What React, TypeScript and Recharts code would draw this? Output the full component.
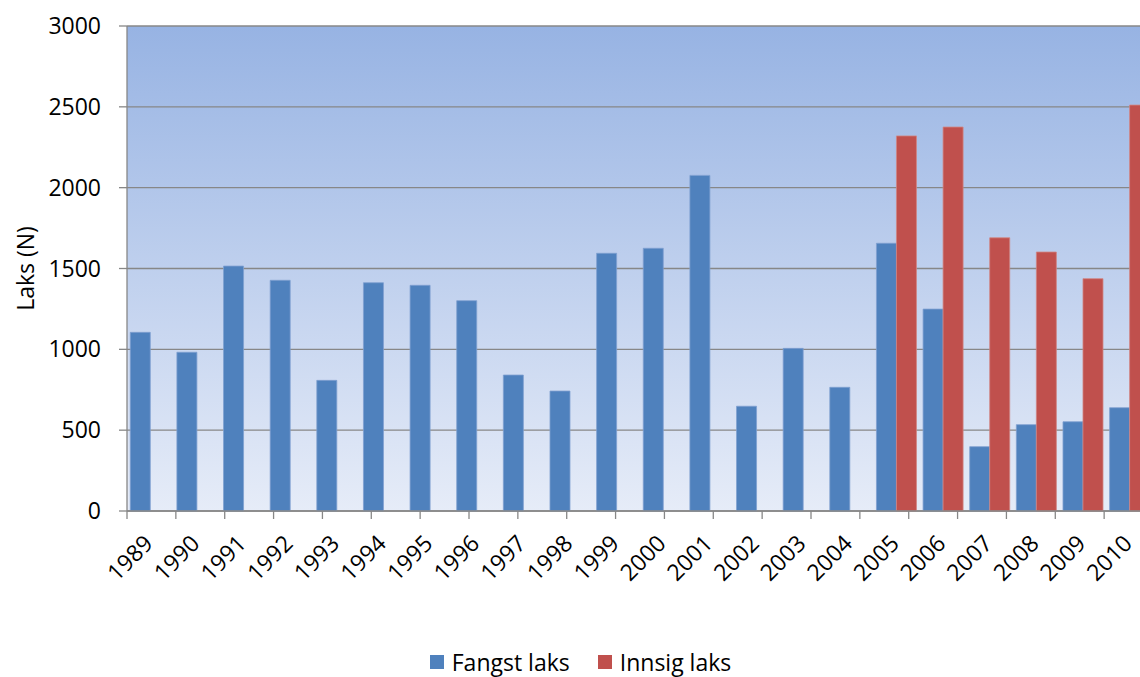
import React from 'react';
import { BarChart, Bar, XAxis, YAxis, CartesianGrid, Legend } from 'recharts';

const YEARS = ['1989', '1990', '1991', '1992', '1993', '1994', '1995', '1996', '1997', '1998', '1999',
  '2000', '2001', '2002', '2003', '2004', '2005', '2006', '2007', '2008', '2009', '2010'];
const FANGST = [1105, 982, 1515, 1427, 808, 1412, 1396, 1301, 841, 742, 1594,
  1625, 2076, 648, 1006, 765, 1656, 1249, 398, 534, 552, 639];
const INNSIG: Array<number | null> = [null, null, null, null, null, null, null, null, null, null, null,
  null, null, null, null, null, 2320, 2375, 1690, 1602, 1437, 2511];
const Y_TICKS = [0, 500, 1000, 1500, 2000, 2500, 3000];
const BOUNDARY_TICKS = Array.from({ length: YEARS.length + 1 }, (_, i) => i);

const data = YEARS.map((year, i) => ({ year, fangst: FANGST[i], innsig: INNSIG[i] }));

const FONT = '"Open Sans", "Liberation Sans", sans-serif';
const FONT_SIZE = 23;
const AXIS_GRAY = '#878787';
const BLUE = '#4f81bd';
const RED = '#c0504d';

const YearTick = (props: any) => {
  const { x, y, payload } = props;
  const tx = x + 4;
  const ty = y + 25;
  return (
    <text x={tx} y={ty} transform={`rotate(-45, ${tx}, ${ty})`} textAnchor="end"
      fontFamily={FONT} fontSize={FONT_SIZE} fill="#000">
      {payload.value}
    </text>
  );
};

const LegendBox = () => (
  <div style={{ display: 'flex', justifyContent: 'center', alignItems: 'center', width: 1161, height: 30,
    fontFamily: FONT, fontSize: FONT_SIZE, color: '#000' }}>
    {[{ c: BLUE, t: 'Fangst laks' }, { c: RED, t: 'Innsig laks' }].map((it, i) => (
      <div key={it.t} style={{ display: 'flex', alignItems: 'center', marginLeft: i ? 28 : 0 }}>
        <span style={{ width: 14, height: 14, background: it.c, marginRight: 8, display: 'inline-block' }} />
        <span>{it.t}</span>
      </div>
    ))}
  </div>
);

export default function App() {
  return (
    <div style={{ position: 'absolute', left: 0, top: 0, width: 1140, height: 677, overflow: 'hidden', background: '#fff' }}>
      <svg width={0} height={0} style={{ position: 'absolute' }}>
        <defs>
          <linearGradient id="plotBg" x1="0" y1="0" x2="0" y2="1">
            <stop offset="0%" stopColor="#97b3e3" />
            <stop offset="100%" stopColor="#e6ecf8" />
          </linearGradient>
        </defs>
      </svg>
      <BarChart width={1170} height={677} data={data} barCategoryGap="7%" barGap={0}
        margin={{ top: 26, right: 17, left: 0, bottom: 0 }}>
        <CartesianGrid vertical={false} fill="url(#plotBg)" stroke={AXIS_GRAY} strokeWidth={1.3} fillOpacity={1} />
        {/* category boundaries: axis line plus tick marks between years */}
        <XAxis type="number" domain={[0, YEARS.length]} ticks={BOUNDARY_TICKS}
          allowDataOverflow height={1} tick={() => <g />} tickSize={8}
          stroke={AXIS_GRAY} strokeWidth={1.3} />
        <XAxis xAxisId="years" dataKey="year" interval={0} axisLine={false} tickLine={false} height={135} tick={<YearTick />} />
        <YAxis domain={[0, 3000]} ticks={Y_TICKS} width={127} tickSize={8} tickMargin={18}
          stroke={AXIS_GRAY} strokeWidth={1.3}
          tick={{ fill: '#000', fontSize: FONT_SIZE, fontFamily: FONT }}
          label={{
            content: ({ viewBox }: any) => {
              const cx = 34;
              const cy = viewBox.y + viewBox.height / 2;
              return (
                <text x={cx} y={cy} transform={`rotate(-90, ${cx}, ${cy})`} textAnchor="middle"
                  fontFamily={FONT} fontSize={FONT_SIZE} fill="#000">Laks (N)</text>
              );
            },
          }} />
        <Legend verticalAlign="bottom" content={<LegendBox />} wrapperStyle={{ left: 0 }} />
        <Bar xAxisId="years" dataKey="fangst" name="Fangst laks" fill={BLUE} stroke="#7f9fd0" strokeWidth={0.8} isAnimationActive={false} />
        <Bar xAxisId="years" dataKey="innsig" name="Innsig laks" fill={RED} stroke="#d08583" strokeWidth={0.8} isAnimationActive={false} />
      </BarChart>
    </div>
  );
}
